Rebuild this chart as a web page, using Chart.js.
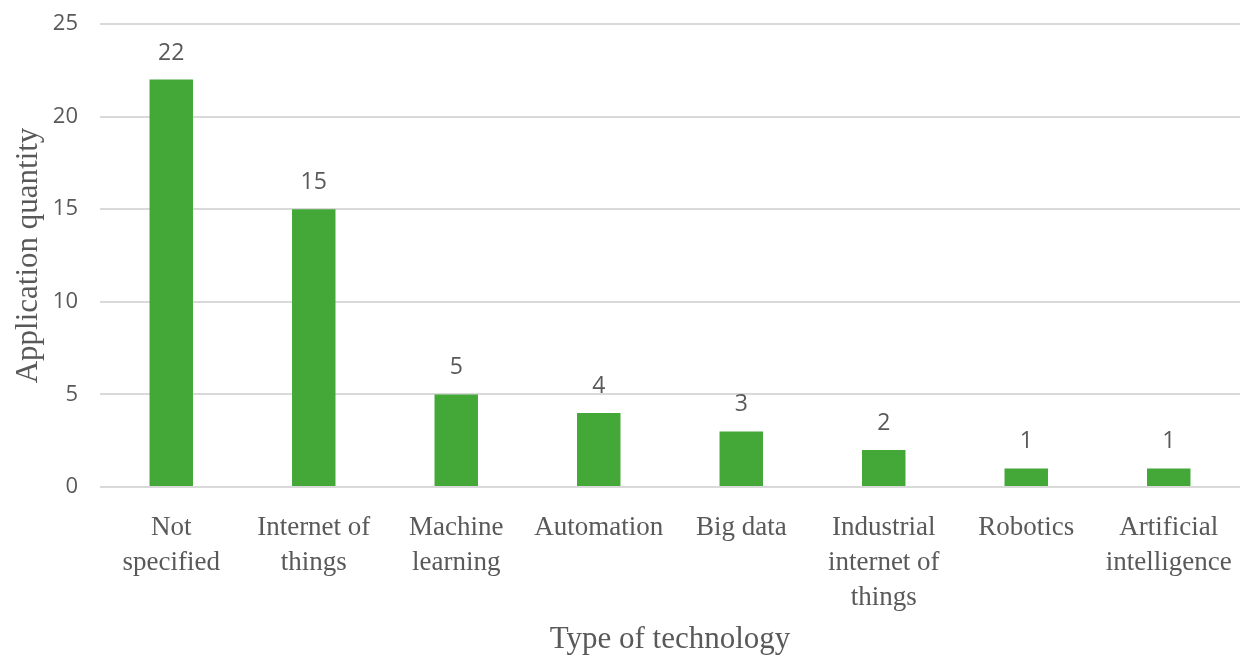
<!DOCTYPE html>
<html>
<head>
<meta charset="utf-8">
<script src="https://cdn.jsdelivr.net/npm/chart.js@4"></script>
<style>
  html, body { margin: 0; padding: 0; background: #fff; }
  #wrap { width: 1249px; height: 655px; position: relative; }
</style>
</head>
<body>
<div id="wrap"><canvas id="techChart"></canvas></div>
<script>
// chart data
const categories = [
    ["Not", "specified"],
    ["Internet of", "things"],
    ["Machine", "learning"],
    "Automation",
    "Big data",
    ["Industrial", "internet of", "things"],
    "Robotics",
    ["Artificial", "intelligence"]
];
const quantities = [22, 15, 5, 4, 3, 2, 1, 1];
const yTicks = [0, 5, 10, 15, 20, 25];

const textColor = "#595959";
const serif = "'Liberation Serif', 'DejaVu Serif', serif";
const sans = "'Open Sans', 'Noto Sans', sans-serif";

// draws the value above each bar
const valueLabels = {
    id: "valueLabels",
    afterDatasetsDraw(chart) {
        const ctx = chart.ctx;
        const meta = chart.getDatasetMeta(0);
        ctx.save();
        ctx.font = "23px " + sans;
        ctx.fillStyle = textColor;
        ctx.textAlign = "center";
        ctx.textBaseline = "alphabetic";
        meta.data.forEach((bar, i) => {
            ctx.fillText(quantities[i], bar.x, bar.y - 20);
        });
        ctx.restore();
    }
};

const ctx = document.getElementById("techChart").getContext("2d");
new Chart(ctx, {
    type: "bar",
    data: {
        labels: categories,
        datasets: [{
            data: quantities,
            backgroundColor: "#43a838",
            borderWidth: 0,
            categoryPercentage: 1,
            barPercentage: 0.305
        }]
    },
    options: {
        responsive: true,
        maintainAspectRatio: false,
        animation: false,
        layout: { padding: { top: 24, right: 9, bottom: 0, left: 0 } },
        plugins: {
            legend: { display: false },
            tooltip: { enabled: false }
        },
        scales: {
            x: {
                grid: { display: false },
                border: { display: false },
                ticks: {
                    color: textColor,
                    font: { family: serif, size: 27, lineHeight: 1.3 },
                    padding: 15,
                    maxRotation: 0,
                    autoSkip: false
                },
                title: {
                    display: true,
                    text: "Type of technology",
                    color: textColor,
                    font: { family: serif, size: 31, lineHeight: 1 },
                    padding: { top: 0, bottom: 0 }
                },
                afterFit(scale) {
                    scale.height = 168;
                    scale.paddingLeft = 0;
                    scale.paddingRight = 0;
                }
            },
            y: {
                min: 0,
                max: 25,
                afterBuildTicks(scale) { scale.ticks = yTicks.map(v => ({ value: v })); },
                grid: { color: "#d9d9d9", lineWidth: 2, drawTicks: false },
                border: { display: false },
                ticks: {
                    color: textColor,
                    font: { family: sans, size: 22 },
                    padding: 22
                },
                title: {
                    display: true,
                    text: "Application quantity",
                    color: textColor,
                    font: { family: serif, size: 31 },
                    padding: { top: 10, bottom: 0 }
                },
                afterFit(scale) {
                    scale.width = 100;
                    scale.paddingTop = 0;
                    scale.paddingBottom = 0;
                }
            }
        }
    },
    plugins: [valueLabels]
});
</script>
</body>
</html>
